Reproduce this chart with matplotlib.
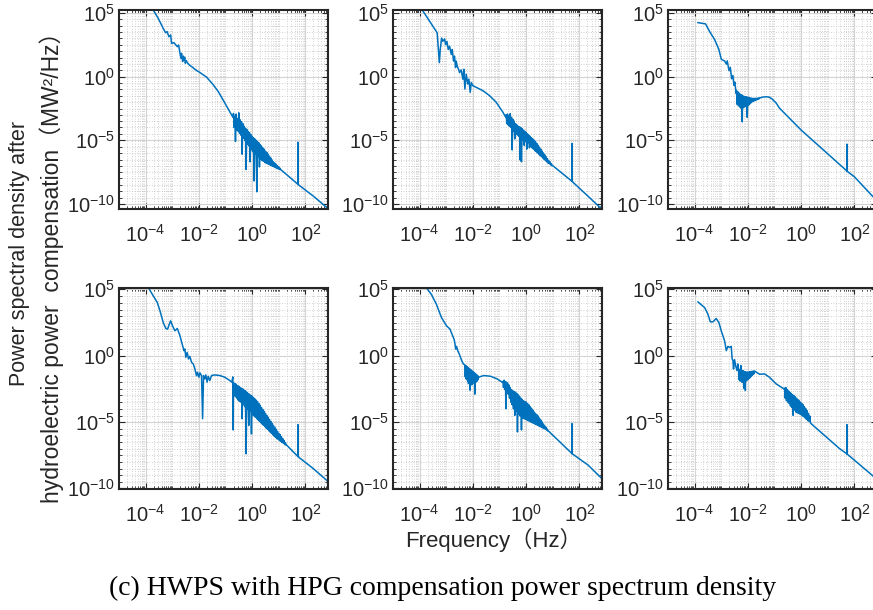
import numpy as np
import matplotlib
matplotlib.use('Agg')
import matplotlib.pyplot as plt
from matplotlib.ticker import LogLocator, NullFormatter

plt.rcParams['font.family'] = ['Liberation Sans', 'Noto Sans CJK SC']
plt.rcParams['mathtext.default'] = 'regular'

# spectra: (log10 frequency in Hz, log10 PSD)
psd_a = [(-3.80, 5.60), (-3.71, 5.21), (-3.525, 4.56), (-3.34, 3.78), (-3.25, 3.44), (-3.19, 3.52),
         (-3.125, 3.12), (-3.06, 3.26), (-3.025, 2.60), (-2.94, 2.66), (-2.86, 2.47), (-2.81, 2.34),
         (-2.76, 2.47), (-2.71, 1.82), (-2.675, 1.43), (-2.65, 1.82), (-2.61, 1.17), (-2.58, 1.60),
         (-2.56, 1.30), (-2.53, 1.50), (-2.51, 1.04), (-2.47, 1.25), (-2.44, 1.10), (-2.36, 0.91),
         (-2.275, 0.78), (-2.15, 0.57), (-1.96, 0.31), (-1.71, -0.05), (-1.46, -0.65), (-1.275, -1.17),
         (-1.025, -2.08), (-0.775, -3.0), (-0.72, -3.2),
         (-0.700, -2.90), (-0.675, -4.00), (-0.650, -3.10), (-0.625, -5.10), (-0.600, -2.95),
         (-0.575, -4.20), (-0.550, -3.30), (-0.525, -4.30), (-0.500, -2.85), (-0.475, -4.45),
         (-0.450, -3.40), (-0.425, -4.60), (-0.400, -3.55), (-0.375, -6.10), (-0.350, -3.70),
         (-0.325, -4.85), (-0.300, -3.90), (-0.275, -5.00), (-0.250, -4.05), (-0.225, -7.30),
         (-0.200, -4.15), (-0.175, -5.30), (-0.150, -4.30), (-0.125, -5.45), (-0.100, -4.40),
         (-0.075, -6.70), (-0.050, -4.55), (-0.025, -5.75), (0.000, -4.70), (0.025, -5.90),
         (0.050, -4.80), (0.075, -8.20), (0.100, -4.90), (0.125, -6.05), (0.150, -5.00),
         (0.175, -9.05), (0.200, -5.10), (0.225, -6.30), (0.250, -5.20), (0.275, -7.10),
         (0.300, -5.35), (0.325, -6.50), (0.350, -5.45), (0.375, -6.60), (0.400, -5.60),
         (0.425, -6.65), (0.450, -5.70), (0.475, -6.75), (0.500, -5.85), (0.525, -6.80),
         (0.550, -5.95), (0.575, -6.85), (0.600, -6.10), (0.625, -6.90), (0.650, -6.25),
         (0.675, -6.95), (0.700, -6.40), (0.725, -7.00), (0.750, -6.55), (0.775, -7.05),
         (0.800, -6.70), (0.825, -7.10), (0.850, -6.80), (0.875, -7.15), (0.900, -6.90),
         (0.925, -7.20), (0.950, -7.00), (0.975, -7.25), (1.000, -7.10), (1.025, -7.30),
         (1.050, -7.20), (1.075, -7.33), (1.100, -7.35),
         (1.720, -8.46), (1.722, -5.16), (1.724, -8.47), (2.29, -9.375), (2.85, -10.36), (2.95, -10.5)]

psd_b = [(-3.95, 5.40), (-3.90, 5.22), (-3.375, 3.54), (-3.34, 3.41), (-3.30, 2.25), (-3.26, 1.09),
         (-3.225, 2.12), (-3.175, 3.02), (-3.125, 2.76), (-3.06, 2.95), (-3.025, 2.50), (-2.975, 2.76),
         (-2.925, 2.12), (-2.875, 2.38), (-2.81, 1.73), (-2.775, 2.12), (-2.725, 1.21), (-2.69, 1.60),
         (-2.65, 0.70), (-2.625, 1.21), (-2.59, 0.83), (-2.54, 0.57), (-2.50, 0.31), (-2.44, 0.52),
         (-2.375, -0.21), (-2.34, 0.57), (-2.30, -0.98), (-2.25, 0.18), (-2.19, -0.59), (-2.15, -0.21),
         (-2.10, -1.24), (-2.06, -0.47), (-2.0, -0.72), (-1.875, -0.85), (-1.625, -1.11),
         (-1.375, -1.50), (-1.125, -2.02), (-0.875, -2.79), (-0.77, -3.18),
         (-0.750, -3.00), (-0.725, -3.70), (-0.700, -2.95), (-0.675, -3.80), (-0.650, -3.10),
         (-0.625, -3.90), (-0.600, -2.92), (-0.575, -4.00), (-0.550, -3.20), (-0.525, -5.76),
         (-0.500, -3.35), (-0.475, -4.30), (-0.450, -3.50), (-0.425, -4.90), (-0.400, -3.70),
         (-0.375, -4.50), (-0.350, -3.80), (-0.325, -4.60), (-0.300, -3.90), (-0.275, -4.70),
         (-0.250, -3.95), (-0.225, -6.55), (-0.200, -4.00), (-0.175, -6.70), (-0.150, -4.10),
         (-0.125, -5.00), (-0.100, -4.20), (-0.075, -5.40), (-0.050, -4.30), (-0.025, -5.10),
         (0.000, -4.40), (0.025, -5.70), (0.050, -4.50), (0.075, -5.20), (0.100, -4.60),
         (0.125, -5.60), (0.150, -4.70), (0.175, -5.50), (0.200, -4.80), (0.225, -5.60),
         (0.250, -4.90), (0.275, -5.70), (0.300, -5.00), (0.325, -5.80), (0.350, -5.10),
         (0.375, -5.90), (0.400, -5.25), (0.425, -6.00), (0.450, -5.40), (0.475, -6.10),
         (0.500, -5.55), (0.525, -6.20), (0.550, -5.70), (0.575, -6.30), (0.600, -5.85),
         (0.625, -6.40), (0.650, -6.00), (0.675, -6.50), (0.700, -6.15), (0.725, -6.60),
         (0.750, -6.30), (0.775, -6.70), (0.800, -6.45), (0.825, -6.80), (0.850, -6.60),
         (0.875, -6.85), (0.900, -6.70), (0.925, -6.95), (0.950, -6.85), (0.975, -7.00),
         (1.000, -7.00),
         (1.720, -8.22), (1.722, -5.25), (1.724, -8.23), (2.25, -9.25), (2.75, -10.23), (2.95, -10.6)]

psd_c = [(-3.875, 4.23), (-3.59, 4.13), (-3.44, 3.54), (-3.25, 2.90), (-3.09, 2.13), (-3.0, 1.36),
         (-2.94, 1.28), (-2.875, 1.23), (-2.81, 0.97), (-2.775, 1.23), (-2.71, 0.46), (-2.66, 0.72),
         (-2.61, -0.18), (-2.56, 0.08), (-2.525, -0.69), (-2.49, -0.44), (-2.44, -1.33),
         (-2.425, -1.10), (-2.400, -2.20), (-2.375, -1.20), (-2.350, -2.30), (-2.325, -1.30),
         (-2.300, -2.40), (-2.275, -1.40), (-2.250, -2.50), (-2.225, -1.45), (-2.210, -3.56),
         (-2.200, -1.50), (-2.175, -2.45), (-2.150, -1.55), (-2.125, -2.40), (-2.100, -1.58),
         (-2.075, -2.35), (-2.050, -1.60), (-2.025, -3.20), (-2.000, -1.62), (-1.975, -2.25),
         (-1.950, -1.65), (-1.925, -2.15), (-1.900, -1.68), (-1.875, -2.05), (-1.850, -1.70),
         (-1.825, -1.98), (-1.800, -1.72), (-1.775, -1.93), (-1.750, -1.72), (-1.725, -1.88),
         (-1.700, -1.71), (-1.675, -1.84), (-1.650, -1.70), (-1.625, -1.80), (-1.600, -1.68),
         (-1.575, -1.75),
         (-1.55, -1.68), (-1.45, -1.62), (-1.31, -1.59), (-1.20, -1.62), (-1.10, -1.75),
         (-0.95, -2.05), (-0.81, -2.49), (0.0, -4.20), (0.69, -5.49),
         (1.720, -7.42), (1.722, -5.31), (1.724, -7.43), (2.0, -7.87), (2.69, -9.41), (2.95, -10.0)]

psd_d = [(-3.90, 5.20), (-3.86, 5.0), (-3.71, 4.5), (-3.56, 4.0), (-3.46, 3.375), (-3.34, 2.5),
         (-3.24, 2.05), (-3.175, 2.0), (-3.11, 2.375), (-3.06, 2.625), (-2.99, 2.25), (-2.90, 1.875),
         (-2.81, 2.05), (-2.71, 1.5), (-2.61, 0.75), (-2.56, 0.375), (-2.525, 0.5), (-2.49, -0.125),
         (-2.44, 0.25), (-2.39, -0.25), (-2.34, -0.05), (-2.275, -0.5), (-2.21, -0.625), (-2.15, -1.0),
         (-2.09, -1.5), (-2.05, -1.25), (-2.0, -1.625), (-1.96, -1.3), (-1.90, -1.5), (-1.86, -4.75),
         (-1.825, -1.5), (-1.775, -1.75), (-1.74, -1.45), (-1.69, -2.0), (-1.65, -1.55),
         (-1.59, -1.875), (-1.525, -1.5), (-1.40, -1.45), (-1.21, -1.5), (-1.025, -1.625),
         (-0.84, -1.875), (-0.76, -2.0),
         (-0.725, -1.60), (-0.710, -5.60), (-0.700, -2.05), (-0.675, -2.95), (-0.650, -2.10),
         (-0.625, -3.10), (-0.600, -2.15), (-0.575, -3.20), (-0.550, -2.25), (-0.525, -3.35),
         (-0.500, -2.30), (-0.475, -3.45), (-0.450, -2.40), (-0.425, -3.50), (-0.400, -2.45),
         (-0.375, -4.75), (-0.350, -2.50), (-0.325, -3.70), (-0.300, -2.60), (-0.275, -3.85),
         (-0.250, -2.65), (-0.225, -7.40), (-0.200, -2.75), (-0.175, -4.00), (-0.150, -2.85),
         (-0.125, -5.25), (-0.100, -2.90), (-0.075, -4.20), (-0.050, -3.00), (-0.025, -5.90),
         (0.000, -3.05), (0.025, -4.45), (0.050, -3.15), (0.075, -4.55), (0.100, -3.25),
         (0.125, -4.65), (0.150, -3.35), (0.175, -4.75), (0.200, -3.45), (0.225, -4.85),
         (0.250, -3.60), (0.275, -4.95), (0.300, -3.75), (0.325, -5.05), (0.350, -3.90),
         (0.375, -5.15), (0.400, -4.05), (0.425, -5.25), (0.450, -4.20), (0.475, -5.35),
         (0.500, -4.35), (0.525, -5.45), (0.550, -4.50), (0.575, -5.55), (0.600, -4.65),
         (0.625, -5.65), (0.650, -4.80), (0.675, -5.75), (0.700, -4.95), (0.725, -5.85),
         (0.750, -5.10), (0.775, -5.95), (0.800, -5.25), (0.825, -6.05), (0.850, -5.40),
         (0.875, -6.15), (0.900, -5.55), (0.925, -6.25), (0.950, -5.70), (0.975, -6.30),
         (1.000, -5.85), (1.025, -6.40), (1.050, -5.95), (1.075, -6.45), (1.100, -6.10),
         (1.125, -6.55), (1.150, -6.25), (1.175, -6.60), (1.200, -6.40), (1.225, -6.70),
         (1.250, -6.55), (1.275, -6.75), (1.300, -6.75),
         (1.720, -7.60), (1.722, -5.20), (1.724, -7.61), (2.29, -8.5), (2.79, -9.375), (2.95, -9.7)]

psd_e = [(-3.80, 5.30), (-3.75, 5.125), (-3.56, 4.625), (-3.37, 3.875), (-3.18, 2.875), (-2.99, 2.25),
         (-2.86, 2.0), (-2.76, 1.5), (-2.70, 1.2), (-2.67, 0.875), (-2.645, 0.5), (-2.61, 0.7),
         (-2.57, 0.375), (-2.51, 0.125), (-2.48, -0.05), (-2.42, -0.375), (-2.355, -0.625),
         (-2.300, -0.70), (-2.285, -1.60), (-2.270, -0.75), (-2.255, -1.75), (-2.240, -0.80),
         (-2.225, -1.80), (-2.210, -0.85), (-2.195, -1.90), (-2.180, -0.90), (-2.165, -2.10),
         (-2.150, -0.95), (-2.135, -1.95), (-2.120, -1.00), (-2.105, -2.60), (-2.090, -1.05),
         (-2.075, -2.00), (-2.060, -1.10), (-2.045, -2.20), (-2.030, -1.15), (-2.015, -2.10),
         (-2.000, -1.20), (-1.985, -2.05), (-1.970, -1.25), (-1.955, -2.00), (-1.940, -1.30),
         (-1.925, -2.90), (-1.910, -1.35), (-1.895, -2.00), (-1.880, -1.40), (-1.865, -1.95),
         (-1.850, -1.45), (-1.835, -1.90), (-1.820, -1.50), (-1.805, -1.80),
         (-1.785, -1.625), (-1.595, -1.5), (-1.34, -1.55), (-1.09, -1.75), (-0.90, -2.0),
         (-0.875, -1.95), (-0.850, -2.40), (-0.825, -1.85), (-0.800, -2.55), (-0.775, -1.95),
         (-0.760, -4.00), (-0.750, -2.00), (-0.725, -2.70), (-0.700, -2.05), (-0.675, -2.90),
         (-0.650, -2.20), (-0.625, -3.20), (-0.600, -2.40), (-0.575, -3.50), (-0.550, -2.55),
         (-0.525, -3.70), (-0.500, -2.65), (-0.475, -4.00), (-0.450, -2.70), (-0.425, -4.50),
         (-0.400, -2.75), (-0.375, -4.20), (-0.350, -2.85), (-0.325, -5.75), (-0.300, -2.95),
         (-0.275, -4.40), (-0.250, -3.05), (-0.225, -4.55), (-0.200, -3.20), (-0.175, -5.60),
         (-0.150, -3.30), (-0.125, -4.70), (-0.100, -3.40), (-0.075, -4.75), (-0.050, -3.45),
         (-0.025, -4.80), (0.000, -3.50), (0.025, -4.85), (0.050, -3.60), (0.075, -4.90),
         (0.100, -3.70), (0.125, -4.95), (0.150, -3.85), (0.175, -5.00), (0.200, -3.95),
         (0.225, -5.05), (0.250, -4.10), (0.275, -5.10), (0.300, -4.25), (0.325, -5.15),
         (0.350, -4.35), (0.375, -5.20), (0.400, -4.45), (0.425, -5.25), (0.450, -4.55),
         (0.475, -5.30), (0.500, -4.70), (0.525, -5.35), (0.550, -4.85), (0.575, -5.40),
         (0.600, -5.00), (0.625, -5.45), (0.650, -5.15), (0.675, -5.50), (0.700, -5.30),
         (0.725, -5.55), (0.750, -5.40), (0.775, -5.62), (0.800, -5.55), (0.825, -5.70),
         (0.850, -5.70),
         (1.720, -7.375), (1.722, -5.125), (1.724, -7.385), (2.33, -8.25), (2.90, -9.375), (2.95, -9.5)]

psd_f = [(-3.875, 4.05), (-3.625, 3.625), (-3.5, 3.125), (-3.41, 2.55), (-3.31, 2.55), (-3.19, 2.8),
         (-3.09, 2.5), (-3.0, 1.875), (-2.875, 1.125), (-2.81, 0.375), (-2.75, 0.7), (-2.69, 0.625),
         (-2.625, 0.7), (-2.59, -0.25), (-2.56, -0.375), (-2.54, -1.0), (-2.5, -0.3), (-2.46, -0.75),
         (-2.41, -1.125), (-2.375, -0.625),
         (-2.350, -1.00), (-2.335, -1.80), (-2.320, -1.05), (-2.305, -1.90), (-2.290, -1.10),
         (-2.275, -1.85), (-2.260, -0.75), (-2.245, -1.95), (-2.230, -1.10), (-2.215, -2.00),
         (-2.200, -1.15), (-2.185, -1.90), (-2.170, -1.15), (-2.155, -2.45), (-2.140, -1.20),
         (-2.125, -1.95), (-2.110, -1.20), (-2.095, -2.62), (-2.080, -1.25), (-2.065, -1.90),
         (-2.050, -1.25), (-2.035, -1.85), (-2.020, -1.25), (-2.005, -1.80), (-1.990, -1.25),
         (-1.975, -1.75), (-1.960, -1.25), (-1.945, -1.70), (-1.930, -1.22), (-1.915, -1.65),
         (-1.900, -1.20), (-1.885, -1.58), (-1.870, -1.20), (-1.855, -1.52), (-1.840, -1.18),
         (-1.825, -1.45), (-1.810, -1.18), (-1.795, -1.40), (-1.780, -1.17), (-1.765, -1.35),
         (-1.750, -1.16),
         (-1.56, -1.40), (-1.375, -1.375), (-1.19, -1.625), (-0.94, -2.125), (-0.65, -2.5),
         (-0.625, -2.45), (-0.600, -3.20), (-0.575, -2.40), (-0.550, -3.40), (-0.525, -2.55),
         (-0.500, -3.50), (-0.475, -2.65), (-0.450, -3.60), (-0.425, -2.75), (-0.400, -3.80),
         (-0.375, -2.85), (-0.350, -3.90), (-0.325, -2.95), (-0.300, -4.50), (-0.275, -3.00),
         (-0.250, -4.10), (-0.225, -3.10), (-0.200, -4.25), (-0.175, -3.20), (-0.150, -4.30),
         (-0.125, -3.30), (-0.100, -4.35), (-0.075, -3.40), (-0.050, -4.40), (-0.025, -3.50),
         (0.000, -4.45), (0.025, -3.60), (0.050, -4.55), (0.075, -3.70), (0.100, -4.60),
         (0.125, -3.85), (0.150, -4.70), (0.175, -4.00), (0.200, -4.80), (0.225, -4.15),
         (0.250, -4.90), (0.275, -4.35), (0.300, -4.95), (0.325, -4.55), (0.350, -5.05),
         (0.375, -5.125), (1.44, -7.0),
         (1.720, -7.40), (1.722, -5.20), (1.724, -7.41), (2.0, -7.875), (2.69, -9.05), (2.95, -9.6)]

spectra = [psd_a, psd_b, psd_c, psd_d, psd_e, psd_f]

xticks = [1e-4, 1e-2, 1e0, 1e2]
xticklabels = ['$10^{-4}$', '$10^{-2}$', '$10^{0}$', '$10^{2}$']
yticks = [1e-10, 1e-5, 1e0, 1e5]
yticklabels = ['$10^{-10}$', '$10^{-5}$', '$10^{0}$', '$10^{5}$']

W, H = 873, 610
fig = plt.figure(figsize=(W / 100, H / 100), dpi=100)

lefts = [119, 393, 668]
rows = [(10, 209, (10**-10.4, 10**5.22)), (288, 489, (10**-10.05, 10**5.1))]

for r, (top, bot, ylim) in enumerate(rows):
    for c, left in enumerate(lefts):
        ax = fig.add_axes([left / W, (H - bot) / H, 209 / W, (bot - top) / H])
        pts = np.array(spectra[r * 3 + c])
        ax.plot(10 ** pts[:, 0], 10 ** pts[:, 1], color='#0072BD', lw=1.1)
        ax.set_xscale('log')
        ax.set_yscale('log')
        ax.set_xlim(1e-5, 10**2.85)
        ax.set_ylim(*ylim)
        ax.set_xticks(xticks)
        ax.set_xticklabels(xticklabels)
        ax.set_yticks(yticks)
        ax.set_yticklabels(yticklabels)
        ax.xaxis.set_minor_locator(LogLocator(base=10, subs=np.arange(1, 10), numticks=200))
        ax.yaxis.set_minor_locator(LogLocator(base=10, subs=(1.0, 3.0), numticks=200))
        ax.xaxis.set_minor_formatter(NullFormatter())
        ax.yaxis.set_minor_formatter(NullFormatter())
        ax.tick_params(which='both', direction='in', top=True, right=True, labelsize=14.5,
                       color='#262626', labelcolor='#262626')
        ax.tick_params(which='major', length=4, width=0.8)
        ax.tick_params(which='minor', length=2, width=0.6)
        ax.tick_params(axis='x', pad=11)
        ax.tick_params(axis='y', pad=3)
        ax.grid(which='major', color='#d4d4d4', lw=0.8, ls='-')
        ax.grid(which='minor', color='#c4c4c4', lw=0.6, ls=(0, (1, 2)))
        for s in ax.spines.values():
            s.set_linewidth(1.5)
            s.set_color('#262626')

fig.text(20 / W, 1 - 253 / H, 'Power spectral density after', rotation=90,
         ha='center', va='center', fontsize=15.5, color='#262626')
fig.text(52 / W, 1 - 262 / H, 'hydroelectric power  compensation（MW²/Hz）', rotation=90,
         ha='center', va='center', fontsize=16.5, color='#262626')
fig.text(494 / W, 1 - 540 / H, 'Frequency（Hz）', ha='center', va='center',
         fontsize=16, color='#262626')
fig.text(443 / W, 1 - 588 / H, '(c) HWPS with HPG compensation power spectrum density',
         ha='center', va='center', fontsize=20, family='Liberation Serif', color='black')

fig.savefig('out.png', dpi=100)
